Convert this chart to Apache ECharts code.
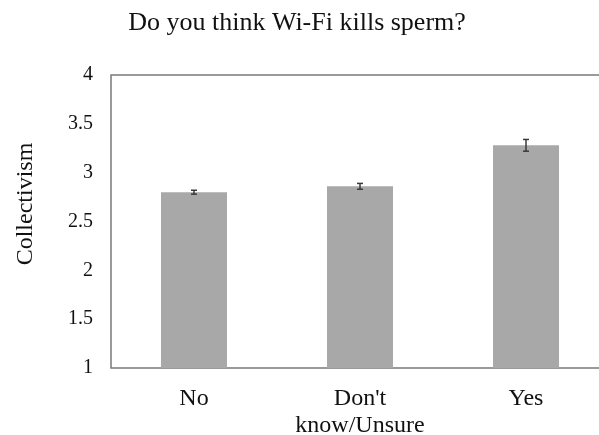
<!DOCTYPE html>
<html>
<head>
<meta charset="utf-8">
<script src="https://cdn.jsdelivr.net/npm/echarts@6/dist/echarts.min.js"></script>
<style>
  html, body { margin: 0; padding: 0; background: #fff; }
  #chart { width: 599px; height: 435px; }
</style>
</head>
<body>
<div id="chart"></div>
<script>
// Mean collectivism score by answer, with standard error bars
const categories = ['No', "Don't\nknow/Unsure", 'Yes'];
const means = [2.80, 2.86, 3.28];
const errors = [0.02, 0.03, 0.06];
const yTicks = [1, 1.5, 2, 2.5, 3, 3.5, 4];

const serif = '"Liberation Serif", "Times New Roman", serif';

const errorData = means.map((m, i) => [i, m - errors[i], m + errors[i]]);

const chart = echarts.init(document.getElementById('chart'));
chart.setOption({
  animation: false,
  backgroundColor: '#ffffff',
  title: {
    text: 'Do you think Wi-Fi kills sperm?',
    left: 292,
    textAlign: 'center',
    top: 5,
    textStyle: { fontFamily: serif, fontSize: 26, fontWeight: 'normal', color: '#111' }
  },
  grid: {
    left: 111, top: 75, width: 498, height: 293,
    outerBoundsMode: 'none',
    containLabel: false,
    show: true, borderColor: '#7a7a7a', borderWidth: 1.5, backgroundColor: 'transparent'
  },
  xAxis: {
    type: 'category',
    data: categories,
    axisTick: { show: false },
    axisLine: { show: false },
    axisLabel: {
      interval: 0,
      fontFamily: serif, fontSize: 24, color: '#111', margin: 17, lineHeight: 27
    }
  },
  yAxis: {
    type: 'value',
    min: yTicks[0],
    max: yTicks[yTicks.length - 1],
    interval: 0.5,
    splitLine: { show: false },
    axisLine: { show: false },
    axisTick: { show: false },
    axisLabel: { fontFamily: serif, fontSize: 20, color: '#111', margin: 18 }
  },
  graphic: [{
    type: 'text',
    x: 26, y: 204,
    rotation: Math.PI / 2,
    style: {
      text: 'Collectivism',
      fontFamily: serif, fontSize: 24, fill: '#111',
      align: 'center', verticalAlign: 'middle'
    }
  }],
  series: [
    {
      type: 'bar',
      data: means,
      barWidth: 66,
      itemStyle: { color: '#a8a8a8' }
    },
    {
      type: 'custom',
      data: errorData,
      z: 10,
      renderItem: function (params, api) {
        const x = api.coord([api.value(0), api.value(1)])[0];
        const lo = api.coord([api.value(0), api.value(1)])[1];
        const hi = api.coord([api.value(0), api.value(2)])[1];
        const half = 3;
        const style = { stroke: '#3a3a3a', lineWidth: 1.5 };
        return {
          type: 'group',
          children: [
            { type: 'line', shape: { x1: x, y1: lo, x2: x, y2: hi }, style: style },
            { type: 'line', shape: { x1: x - half, y1: lo, x2: x + half, y2: lo }, style: style },
            { type: 'line', shape: { x1: x - half, y1: hi, x2: x + half, y2: hi }, style: style }
          ]
        };
      }
    }
  ]
});
</script>
</body>
</html>
